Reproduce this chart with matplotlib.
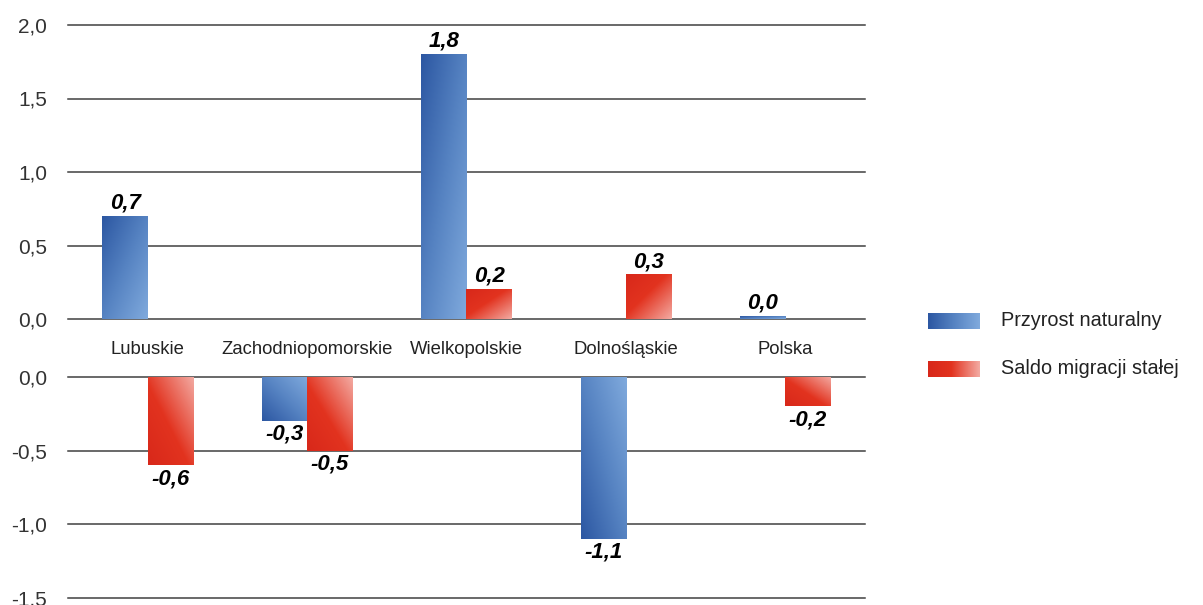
import numpy as np
import matplotlib
matplotlib.use('agg')
import matplotlib.pyplot as plt
from matplotlib.colors import LinearSegmentedColormap
from matplotlib.ticker import FuncFormatter

categories = ['Lubuskie', 'Zachodniopomorskie', 'Wielkopolskie', 'Dolnośląskie', 'Polska']
przyrost = [0.7, -0.3, 1.8, -1.1, 0.02]
saldo = [-0.6, -0.5, 0.2, 0.3, -0.2]
series_names = ['Przyrost naturalny', 'Saldo migracji stałej']
top_ticks = [0.0, 0.5, 1.0, 1.5, 2.0]
bottom_ticks = [-1.5, -1.0, -0.5, 0.0]

plt.rcParams['font.family'] = ['Liberation Sans', 'DejaVu Sans']

blue_cm = LinearSegmentedColormap.from_list('b', ['#2c57a2', '#5683c2', '#80aadd'])
red_cm = LinearSegmentedColormap.from_list('r', [(0, '#d8281a'), (0.45, '#e2331f'), (1, '#f3aaa2')])

fig = plt.figure(figsize=(12.03, 6.05), dpi=100)
ax_top = fig.add_axes([68 / 1203, 1 - 319 / 605, 797 / 1203, 294 / 605])
ax_bot = fig.add_axes([68 / 1203, 1 - 598 / 605, 797 / 1203, 221 / 605])

width = 0.285
offsets = [-0.142, 0.142]


def fmt(v, pos=None):
    return f'{v:.1f}'.replace('.', ',')


def gradient_bar(ax, x, v, cmap):
    left, right = x - width / 2, x + width / 2
    lo, hi = min(0, v), max(0, v)
    u = np.linspace(0, 1, 60)[None, :]
    yy = np.linspace(lo, hi, 120)[:, None]
    vv = np.abs(yy - v) / abs(v)
    t = (u + vv) / 2
    ax.imshow(t, cmap=cmap, vmin=0, vmax=1, extent=(left, right, lo, hi),
              origin='lower', aspect='auto', interpolation='bilinear', zorder=2)
    if v >= 0:
        ax.annotate(fmt(v), (x, v), xytext=(0, 2), textcoords='offset points',
                    ha='center', va='bottom', fontsize=16, fontweight='bold',
                    fontstyle='italic', color='black', zorder=3)
    else:
        ax.annotate(fmt(v), (x, v), xytext=(0, -2), textcoords='offset points',
                    ha='center', va='top', fontsize=16, fontweight='bold',
                    fontstyle='italic', color='black', zorder=3)


for series, off, cmap in [(przyrost, offsets[0], blue_cm), (saldo, offsets[1], red_cm)]:
    for i, v in enumerate(series):
        ax = ax_top if v > 0 else ax_bot
        gradient_bar(ax, i + off, v, cmap)

for ax, ticks in [(ax_top, top_ticks), (ax_bot, bottom_ticks)]:
    ax.set_xlim(-0.5, len(categories) - 0.5)
    ax.set_ylim(min(ticks), max(ticks))
    ax.set_yticks(ticks)
    ax.yaxis.set_major_formatter(FuncFormatter(fmt))
    ax.tick_params(axis='y', length=0, pad=15, labelsize=15, labelcolor='#333333')
    ax.grid(axis='y', color='#404040', linewidth=1.1, zorder=0)
    for line in ax.get_ygridlines():
        line.set_clip_on(False)
    for s in ax.spines.values():
        s.set_visible(False)
    ax.set_axisbelow(True)

ax_top.set_xticks(range(len(categories)))
ax_top.set_xticklabels(categories, fontsize=13.3, color='#222222')
ax_top.tick_params(axis='x', length=0, pad=16)
ax_bot.set_xticks([])

# legend
lg = fig.add_axes([920 / 1203, 1 - 390 / 605, 283 / 1203, 90 / 605])
lg.set_xlim(0, 283)
lg.set_ylim(90, 0)
lg.axis('off')
grad = np.linspace(0, 1, 100)[None, :]
for k, (name, cmap) in enumerate(zip(series_names, [blue_cm, red_cm])):
    yc = 21 + k * 48
    lg.imshow(grad, cmap=cmap, extent=(8, 60, yc + 8, yc - 8), aspect='auto',
              interpolation='bilinear')
    lg.text(81, yc, name, fontsize=14.3, va='center', ha='left', color='#222222')
lg.set_xlim(0, 283)
lg.set_ylim(90, 0)

fig.savefig('out.png', dpi=100)
